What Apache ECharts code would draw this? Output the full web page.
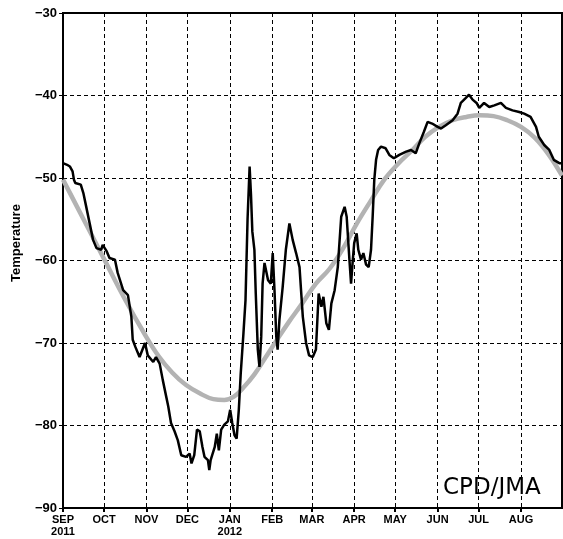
<!DOCTYPE html>
<html>
<head>
<meta charset="utf-8">
<script src="https://cdn.jsdelivr.net/npm/echarts@6/dist/echarts.min.js"></script>
<style>html,body{margin:0;padding:0;background:#fff}#c{width:563px;height:539px}</style>
</head>
<body>
<div id="c"></div>
<script>
// Month starts (days since 1 Sep 2011) and their tick labels
const monthDays = [0, 30, 61, 91, 122, 153, 182, 213, 243, 274, 304, 335];
const monthLabels = ["SEP\n2011", "OCT", "NOV", "DEC", "JAN\n2012", "FEB", "MAR", "APR", "MAY", "JUN", "JUL", "AUG"];
const yTicks = [-90, -80, -70, -60, -50, -40, -30];

// Observed temperature (black line)
const obsDays = [0,3,5,7,8,9,13,15,17,19.5,22,24.5,28,29,32,34,38,40,44,47.5,50,51,53,56,60,62,66,68,70.7,73,75.5,77,79,81.6,84,86.5,90,92.6,94,96,98,100,102,103.5,106,107,108,111,112.5,114,115.7,118,120.6,122.3,123.8,125.5,127,128.6,130,132,133.5,135,136.5,137.5,138.5,140,141,142.5,143.7,145,146,147.4,150,152,153.4,154.7,156,157,158.3,160.7,163,165.6,168,170.5,173,175.4,177.8,180,182.7,185,187,189,190.5,192.6,194.5,196.3,198.7,201,203.5,206,207.5,209.5,210.7,212,213,214.8,216,218,219.7,221.7,223.6,225.3,226.5,227.7,229,230.5,232.6,236,238.7,242,246,251,254.6,258,260.6,264,266.7,270,274,276.5,280,285,288.6,291,294.7,297,299.6,302.5,304.5,308,311.8,315.5,320.3,324,328.8,333.7,337.3,342,346,348,352,355.7,359,363,365];
const obsVals = [-48.2,-48.4,-48.6,-49.2,-50.2,-50.6,-50.8,-51.9,-53.5,-55.5,-57.5,-58.5,-58.7,-58.1,-58.9,-59.7,-59.9,-61.5,-63.6,-64.2,-66.8,-69.6,-70.5,-71.7,-70.0,-71.5,-72.3,-71.7,-72.5,-74.5,-76.5,-77.7,-79.7,-80.7,-81.8,-83.6,-83.8,-83.4,-84.6,-83.6,-80.5,-80.7,-82.6,-83.8,-84.2,-85.4,-84.2,-82.6,-81.0,-83.0,-80.5,-79.9,-79.5,-78.1,-79.7,-81.2,-81.6,-78.1,-73.7,-68.8,-64.8,-55.0,-48.6,-52.0,-56.5,-58.7,-64.0,-70.8,-72.9,-69.2,-62.8,-60.3,-62.4,-62.8,-59.1,-63.6,-69.2,-70.8,-67.2,-63.2,-58.7,-55.5,-57.5,-59.1,-60.8,-66.8,-70.0,-71.5,-71.7,-70.8,-64.0,-65.6,-64.4,-67.6,-68.4,-65.2,-63.6,-60.8,-54.7,-53.5,-54.7,-59.9,-62.8,-59.9,-57.9,-56.7,-58.7,-59.9,-59.1,-60.5,-60.8,-58.7,-54.7,-50.2,-47.8,-46.6,-46.2,-46.4,-47.2,-47.6,-47.2,-46.8,-46.6,-47.0,-45.8,-44.4,-43.2,-43.4,-43.8,-44.0,-43.6,-43.0,-42.2,-40.9,-40.3,-39.9,-40.5,-40.9,-41.5,-40.9,-41.4,-41.2,-40.9,-41.5,-41.8,-42.0,-42.2,-42.6,-43.8,-45.0,-46.0,-46.6,-47.8,-48.2,-48.2];

// Climatology (grey line)
const climDays = [0,15,30,45,60,70,80,90,100,110,118,125,132,140,148,155,165,175,185,195,205,215,225,235,245,255,265,275,285,295,305,315,325,335,345,355,365];
const climVals = [-50.2,-55.0,-59.8,-64.6,-69.0,-71.6,-73.6,-75.1,-76.1,-76.8,-76.9,-76.5,-75.4,-73.8,-71.8,-70.0,-67.5,-65.2,-62.8,-61.0,-58.5,-55.5,-52.8,-50.2,-48.3,-46.7,-45.0,-43.8,-43.0,-42.6,-42.4,-42.5,-43.0,-43.8,-45.1,-47.1,-49.7];

const obs = obsDays.map((d, i) => [d, obsVals[i]]);
const clim = climDays.map((d, i) => [d, climVals[i]]);

const chart = echarts.init(document.getElementById('c'));
const dash = { color: '#000', width: 1, type: [4, 3] };
chart.setOption({
  animation: false,
  backgroundColor: '#fff',
  grid: { left: 63, right: 1, top: 13, bottom: 31, show: true, borderColor: '#000', borderWidth: 2, backgroundColor: 'transparent' },
  xAxis: [{
    type: 'value', min: 0, max: 365, position: 'bottom',
    axisLine: { show: true, onZero: false, lineStyle: { color: '#000', width: 2 } },
    axisTick: { show: true, inside: false, length: 4, customValues: monthDays, lineStyle: { color: '#000', width: 2 } },
    axisLabel: {
      customValues: monthDays, margin: 6, color: '#000',
      fontFamily: 'Liberation Sans', fontWeight: 'bold', fontSize: 11, lineHeight: 12,
      formatter: v => monthLabels[monthDays.indexOf(v)] || ''
    },
    splitLine: { show: true, lineStyle: dash }
  }, {
    type: 'value', min: 0, max: 365, position: 'top',
    axisLine: { show: false },
    axisTick: { show: true, inside: true, length: 4, customValues: monthDays, lineStyle: { color: '#000', width: 1 } },
    axisLabel: { show: false },
    splitLine: { show: false }
  }],
  yAxis: {
    type: 'value', min: -90, max: -30, interval: 10,
    axisLine: { show: true, onZero: false, lineStyle: { color: '#000', width: 2 } },
    axisTick: { show: true, length: 4, lineStyle: { color: '#000', width: 1 } },
    axisLabel: {
      margin: 6, color: '#000', fontFamily: 'Liberation Sans', fontWeight: 'bold', fontSize: 13,
      formatter: v => String(v).replace('-', '\u2212')
    },
    splitLine: { show: true, lineStyle: dash }
  },
  graphic: [
    { type: 'text', left: 443, top: 477, z: 10,
      style: { text: 'CPD/JMA', font: 'normal 23px "DejaVu Sans"', fill: '#000' } },
    { type: 'text', x: 16, y: 243, rotation: Math.PI / 2, z: 10,
      style: { text: 'Temperature', font: 'bold 13px "Liberation Sans"', fill: '#000', align: 'center', verticalAlign: 'middle' } }
  ],
  series: [
    { type: 'line', data: clim, showSymbol: false, smooth: 0.4, z: 2,
      lineStyle: { color: '#b3b3b3', width: 4.5 } },
    { type: 'line', data: obs, showSymbol: false, z: 3,
      lineStyle: { color: '#000', width: 2.5 } }
  ]
});
</script>
</body>
</html>
